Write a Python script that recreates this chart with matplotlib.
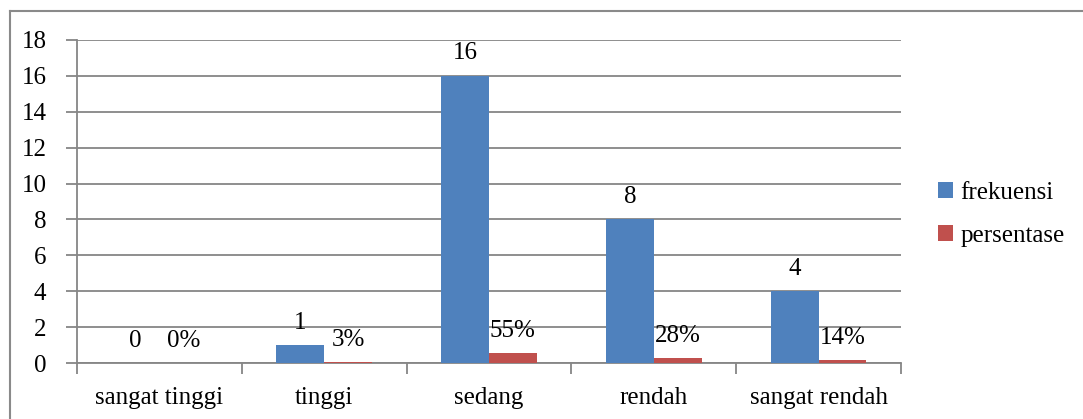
import matplotlib
matplotlib.use("Agg")
import matplotlib.pyplot as plt
from matplotlib.lines import Line2D
import numpy as np

categories = ["sangat tinggi", "tinggi", "sedang", "rendah", "sangat rendah"]
frekuensi = [0, 1, 16, 8, 4]
persentase = [0.0, 0.03, 0.55, 0.28, 0.14]
persentase_labels = ["0%", "3%", "55%", "28%", "14%"]
yticks = [0, 2, 4, 6, 8, 10, 12, 14, 16, 18]

W, H = 1083, 419
plt.rcParams['font.family'] = ['Liberation Serif', 'DejaVu Serif']
FS = 18
fig = plt.figure(figsize=(W/100, H/100), dpi=100)

left, right, top, bottom = 77, 901, 40, 363
ax = fig.add_axes([left/W, 1-bottom/H, (right-left)/W, (bottom-top)/H])

blue = "#4F81BD"
red = "#C0504D"
grid = "#868686"

x = np.arange(len(categories))
bw = 0.29
ax.bar(x - bw/2, frekuensi, bw, color=blue, label="frekuensi", zorder=3)
ax.bar(x + bw/2, persentase, bw, color=red, label="persentase", zorder=3)

off = 1.25
for xi, v in zip(x, frekuensi):
    ax.text(xi - bw/2, v + off, str(v), ha="center", va="center", fontsize=FS, zorder=4)
for xi, v, lab in zip(x, persentase, persentase_labels):
    ax.text(xi + bw/2, v + off, lab, ha="center", va="center", fontsize=FS, zorder=4)

ax.set_xlim(-0.5, len(categories) - 0.5)
ax.set_ylim(0, 18)
ax.set_yticks(yticks)
ax.set_yticklabels([str(t) for t in yticks], fontsize=FS)
ax.yaxis.grid(True, color=grid, linewidth=1.3, zorder=0)
ax.set_axisbelow(True)

ax.set_xticks(np.arange(len(categories) + 1) - 0.5, minor=False)
ax.set_xticklabels([])
ax.set_xticks(x, minor=True)
ax.set_xticklabels(categories, minor=True, fontsize=FS)
ax.tick_params(axis="x", which="minor", length=0, pad=17)
ax.tick_params(axis="x", which="major", length=8, color=grid, width=1.3, direction="out")
ax.tick_params(axis="y", length=8, color=grid, width=1.3, pad=14)

for s in ["top", "right"]:
    ax.spines[s].set_visible(False)
for s in ["left", "bottom"]:
    ax.spines[s].set_color(grid)
    ax.spines[s].set_linewidth(1.3)

leg = fig.legend(loc="upper left", bbox_to_anchor=(938/W, 1-182/H), frameon=False,
                 fontsize=FS, handlelength=0.6, handleheight=0.6, handletextpad=0.3,
                 labelspacing=0.85, borderpad=0, borderaxespad=0)

# chart border (left and top visible)
fig.add_artist(Line2D([10/W, 10/W], [0, 1-11/H], transform=fig.transFigure, color="#8a8a8a", linewidth=1.5))
fig.add_artist(Line2D([10/W, 1082/W], [1-11/H, 1-11/H], transform=fig.transFigure, color="#8a8a8a", linewidth=1.5))

fig.savefig("out.png", dpi=100)
